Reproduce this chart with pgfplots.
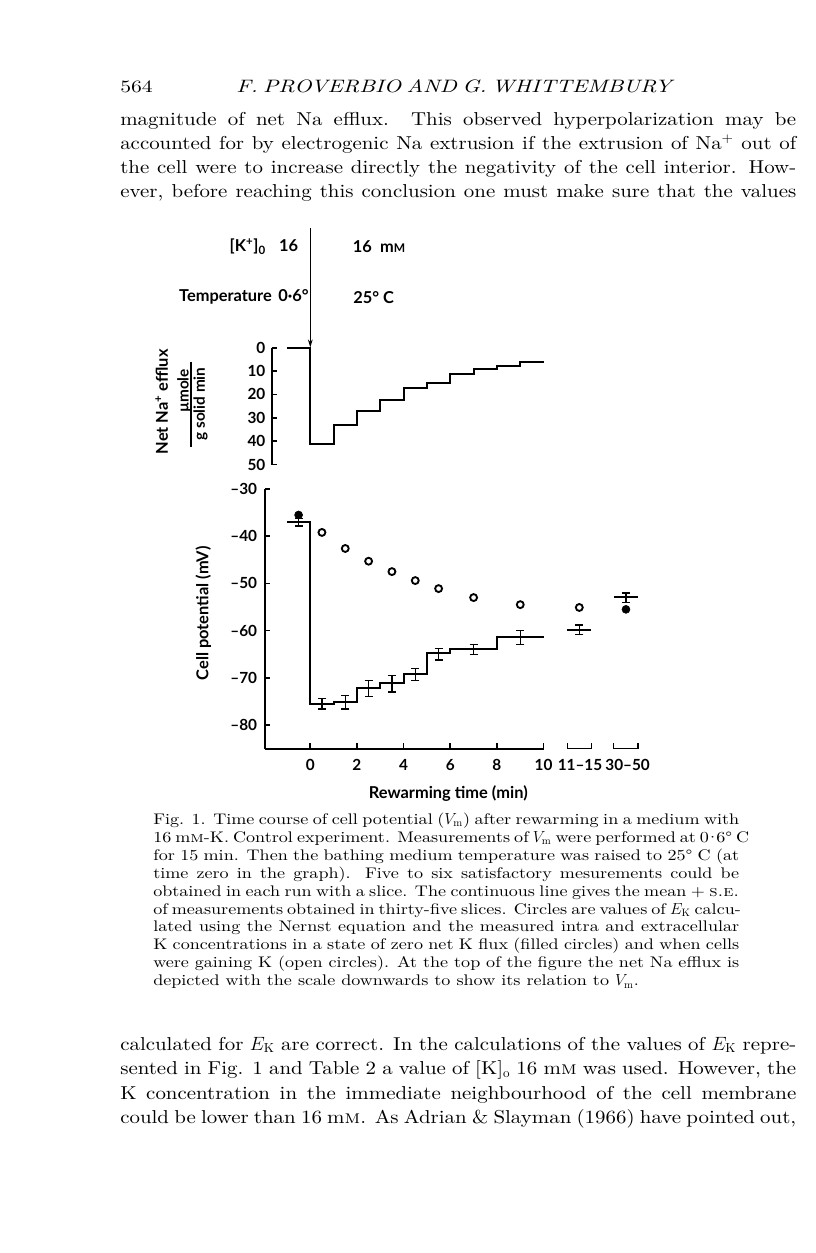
\documentclass[border=0pt]{standalone}
\usepackage{fontspec}
\usepackage{pgfplots}
\pgfplotsset{compat=1.18}
\usetikzlibrary{arrows.meta}
\setmainfont{lmroman10-regular.otf}[ItalicFont=lmroman10-italic.otf, BoldFont=lmroman10-bold.otf, SmallCapsFont=lmromancaps10-regular.otf]
\newfontfamily\bodyfam{lmroman10-regular.otf}[ItalicFont=lmroman10-italic.otf, SmallCapsFont=lmromancaps10-regular.otf, FakeStretch=1.12]
\newfontfamily\headfam{lmroman10-regular.otf}[ItalicFont=lmroman10-italic.otf, FakeStretch=1.25]
\newfontfamily\capfam{lmroman10-regular.otf}[ItalicFont=lmroman10-italic.otf, SmallCapsFont=lmromancaps10-regular.otf, FakeStretch=1.18]
\newfontfamily\cf{Lato}
\newcommand\cfs{\cf\bfseries\fontsize{11.5}{13}\selectfont}
\newcommand\cfl{\cf\bfseries\fontsize{12.3}{14}\selectfont}
\newcommand\bodyf{\bodyfam\fontsize{14}{16}\selectfont}
\newcommand\capf{\capfam\fontsize{11.5}{13}\selectfont}
\newcommand\dec{\kern-0.22em·\kern-0.22em}
\hfuzz=200pt
\hbadness=10000
\newcommand\PL[2]{\node[anchor=base west,inner sep=0pt,font=\bodyf] at (120,#1) {\hbox to 507pt{#2}};}
\newcommand\CL[2]{\node[anchor=base west,inner sep=0pt,font=\capf] at (153,#1) {\hbox to 439.5pt{#2}};}
\newcommand\Vm{$V_{\mathrm{m}}$}
\newcommand\EK{$E_{\mathrm{K}}$}
\pgfplotstableread{
x y e
-0.5 -37 0.8
0.5 -75.5 1.1
1.5 -75.2 1.4
2.5 -72.3 1.7
3.5 -71.3 1.75
4.5 -69.3 1.25
5.5 -65.0 1.2
7 -64.0 1.05
9 -61.5 1.5
11.53 -59.8 1.0
13.53 -53.0 1.0
}\errtab
\begin{document}
\begin{tikzpicture}
\path[use as bounding box] (0,0) rectangle (612pt,-939.75pt);
\pgfplotsset{
  every tick label/.append style={font=\cfs},
  /pgf/number format/assume math mode=true,
}
% ---------- top panel: net Na efflux ----------
\begin{axis}[
  at={(203.775pt,-260.775pt)}, anchor=north west,
  scale only axis, width=212.6pt, height=87.6pt,
  xmin=-1.65, xmax=10.5, ymin=0, ymax=50, y dir=reverse,
  axis y line*=left, axis x line=none, xtick=\empty,
  axis line style={-, line width=1.4pt},
  ytick={0,10,...,50},
  tick align=inside, major tick length=4pt,
  tick style={line width=1.3pt, black},
  yticklabel style={xshift=-1.2pt},
  clip=false,
]
\addplot[const plot, line width=1.5pt] coordinates {(-1,0) (0,41.2) (1,33.3) (2,27.1) (3,22.3) (4,17.4) (5,15.1) (6,11.1) (7,9.1) (8,8.0) (9,6.0) (10,6.0)};
\end{axis}
% ---------- bottom panel: cell potential ----------
\begin{axis}[
  at={(198.75pt,-366.75pt)}, anchor=north west,
  scale only axis, width=208.95pt, height=194.7pt,
  xmin=-1.94, xmax=10, ymin=-85, ymax=-30,
  axis x line*=bottom, axis y line*=left,
  axis line style={-, line width=1.4pt},
  xtick={0,2,...,10}, ytick={-80,-70,...,-30},
  yticklabels={–80,–70,–60,–50,–40,–30},
  tick align=inside, major tick length=4pt,
  tick style={line width=1.3pt, black},
  xticklabel style={yshift=-4.4pt},
  yticklabel style={xshift=-2.4pt},
  clip=false,
]
\addplot[const plot, line width=1.5pt] coordinates {(-1,-37) (0,-75.5) (1,-75.2) (2,-72.2) (3,-71.2) (4,-69.3) (5,-64.8) (6,-64.0) (8,-61.3) (10,-61.3)};
\addplot[line width=1.5pt] coordinates {(11.0,-59.9) (12.03,-59.9)};
\addplot[line width=1.5pt] coordinates {(13.03,-52.9) (14.03,-52.9)};
\addplot[draw=none, mark=none, error bars/.cd, y dir=both, y explicit,
  error bar style={line width=1.1pt, black},
  error mark options={rotate=90, line width=1.1pt, mark size=3pt, black}]
  table[x=x, y=y, y error=e] {\errtab};
\addplot[only marks, mark=o, mark size=2.6pt, mark options={line width=1.4pt, black}] coordinates {(0.5,-39.2) (1.5,-42.6) (2.5,-45.3) (3.5,-47.5) (4.5,-49.4) (5.5,-51.1) (7,-53.0) (9,-54.5) (11.53,-55.1)};
\addplot[only marks, mark=*, mark size=3pt, mark options={black}] coordinates {(-0.5,-35.5) (13.53,-55.5)};
% brackets for the late time ranges
\addplot[line width=1.3pt] coordinates {(11.02,-83.8) (11.02,-85) (12.05,-85) (12.05,-83.8)};
\addplot[line width=1.3pt] coordinates {(13.0,-83.8) (13.0,-85) (14.05,-85) (14.05,-83.8)};
\node[font=\cfs, anchor=north, yshift=-4.4pt] at (axis cs:11.56,-85) {11–15};
\node[font=\cfs, anchor=north, yshift=-4.4pt] at (axis cs:13.6,-85) {30–50};
\end{axis}
\begin{scope}[x=0.75pt,y=-0.75pt]
% chart texts
\draw[line width=1pt, -{Stealth[length=6pt,width=3.5pt]}] (310.3,228.3) -- (310.3,347.5);
\node[font=\cfl, anchor=east, inner sep=0pt] at (298.3,246.7) {[K\textsuperscript{+}]\textsubscript{0}\hspace{0.8em}16};
\node[font=\cfl, anchor=west, inner sep=0pt] at (352.7,246.7) {16\hspace{0.5em}m{\fontsize{9}{9}\selectfont M}};
\node[font=\cfl, anchor=east, inner sep=0pt] at (309,297.3) {Temperature\hspace{0.4em}0·6°};
\node[font=\cfl, anchor=west, inner sep=0pt] at (353,297.3) {25° C};
\node[font=\cfl, rotate=90] at (161.7,401.7) {Net Na\textsuperscript{+} efflux};
\node[font=\cfs, rotate=90] at (184.3,391) {µmole};
\draw[line width=1pt] (191,361.7) -- (191,446.7);
\node[font=\cfs, rotate=90] at (200.5,404) {g solid min};
\node[font=\cfl, rotate=90] at (203.3,613.3) {Cell potential (mV)};
\node[font=\cfl] at (448.3,793.3) {Rewarming time (min)};
% page header
\node[anchor=base west, inner sep=0pt, font=\headfam\fontsize{13}{15}\selectfont] at (120,92.7) {564};
\node[anchor=base west, inner sep=0pt, font=\headfam\fontsize{13.5}{15}\selectfont\itshape] at (236,92.7) {\hbox to 315pt{F. PROVERBIO AND G. WHITTEMBURY}};
% first paragraph
\PL{125}{magnitude of net Na efflux. This observed hyperpolarization may be}
\PL{149.3}{accounted for by electrogenic Na extrusion if the extrusion of Na\textsuperscript{+} out of}
\PL{173.5}{the cell were to increase directly the negativity of the cell interior. How-}
\PL{197.7}{ever, before reaching this conclusion one must make sure that the values}
% caption
\CL{824.5}{Fig. 1. Time course of cell potential (\Vm) after rewarming in a medium with}
\CL{842.4}{16 m\textsc{m}-K. Control experiment. Measurements of \Vm\ were performed at 0\dec 6° C}
\CL{860.3}{for 15 min. Then the bathing medium temperature was raised to 25° C (at}
\CL{878.2}{time zero in the graph). Five to six satisfactory mesurements could be}
\CL{896.1}{obtained in each run with a slice. The continuous line gives the mean + \textsc{s.e.}}
\CL{914.0}{of measurements obtained in thirty-five slices. Circles are values of \EK\ calcu-}
\CL{931.9}{lated using the Nernst equation and the measured intra and extracellular}
\CL{949.8}{K concentrations in a state of zero net K flux (filled circles) and when cells}
\CL{967.7}{were gaining K (open circles). At the top of the figure the net Na efflux is}
\node[anchor=base west,inner sep=0pt,font=\capf] at (153,985.6) {depicted with the scale downwards to show its relation to \Vm.};
% second paragraph
\PL{1050}{calculated for \EK\ are correct. In the calculations of the values of \EK\ repre-}
\PL{1074.5}{sented in Fig. 1 and Table 2 a value of [K]$_{\mathrm{o}}$ 16 m\textsc{m} was used. However, the}
\PL{1099}{K concentration in the immediate neighbourhood of the cell membrane}
\PL{1123.5}{could be lower than 16 m\textsc{m}. As Adrian \& Slayman (1966) have pointed out,}
\end{scope}
\end{tikzpicture}
\end{document}
